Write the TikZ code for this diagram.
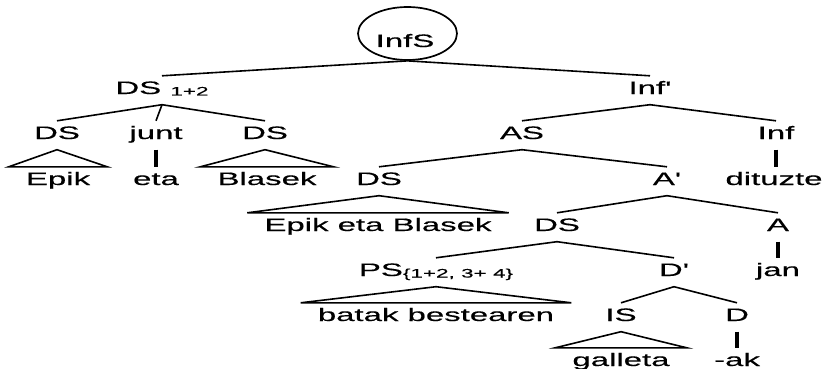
\documentclass[tikz,border=0pt]{standalone}
\usepackage{fontspec}
\setmainfont{Liberation Sans}[FakeStretch=1.83,FakeBold=0.4,Ligatures=TeXOff]
\usetikzlibrary{shapes.geometric}
\newcommand{\subsz}{\fontsize{12.3}{14}\selectfont}
\begin{document}
\begin{tikzpicture}[x=1pt,y=-1pt,
  lab/.style={font=\fontsize{18}{20}\selectfont, inner sep=0pt, text height=18pt, text depth=10.5pt, anchor=base},
  edge/.style={line width=1.6pt},
  vedge/.style={line width=3.2pt},
  ring/.style={draw, ellipse, line width=1.7pt, minimum width=99pt, minimum height=53pt, inner sep=0pt}
]
\useasboundingbox (0,0) rectangle (822,369);
\fill[white] (0,0) rectangle (822,369);
% nodes
\node[lab] (infs) at (405,47) {InfS};
\node[ring] (ring) at (407.5,33.5) {};
\node[lab] (ds12) at (162,94) {DS \raisebox{-1.5pt}{\subsz 1+2}};
\node[lab] (infbar) at (650,94) {Inf'};
\node[lab] (dsa) at (57,139) {DS};
\node[lab] (junt) at (156,139) {junt};
\node[lab] (dsb) at (265,139) {DS};
\node[lab] (as) at (522,139) {AS};
\node[lab] (inf) at (776,139) {Inf};
\node[lab] (epik) at (58,185) {Epik};
\node[lab] (eta) at (156,185) {eta};
\node[lab] (blasek) at (267,185) {Blasek};
\node[lab] (dsc) at (379,185) {DS};
\node[lab] (abar) at (667,185) {A'};
\node[lab] (dituzte) at (774,185) {dituzte};
\node[lab] (eeb) at (378,231) {Epik eta Blasek};
\node[lab] (dsd) at (557,231) {DS};
\node[lab] (a) at (778,231) {A};
\node[lab] (ps) at (436,276) {PS\raisebox{-1.5pt}{\subsz\{1+2, 3+ 4\}}};
\node[lab] (dbar) at (674,276) {D'};
\node[lab] (jan) at (778,276) {jan};
\node[lab] (bb) at (436,321) {batak bestearen};
\node[lab] (is) at (621,321) {IS};
\node[lab] (d) at (737,321) {D};
\node[lab] (galleta) at (621,366) {galleta};
\node[lab] (ak) at (737,366) {-ak};
% branches
\draw[edge] (ring.south) -- (ds12.north);
\draw[edge] (ring.south) -- (infbar.north);
\draw[edge] (ds12.south) -- (dsa.north);
\draw[edge] (ds12.south) -- (junt.north);
\draw[edge] (ds12.south) -- (dsb.north);
\draw[edge] (infbar.south) -- (as.north);
\draw[edge] (infbar.south) -- (inf.north);
\draw[edge] (as.south) -- (dsc.north);
\draw[edge] (as.south) -- (abar.north);
\draw[edge] (abar.south) -- (dsd.north);
\draw[edge] (abar.south) -- (a.north);
\draw[edge] (dsd.south) -- (ps.north);
\draw[edge] (dsd.south) -- (dbar.north);
\draw[edge] (dbar.south) -- (is.north);
\draw[edge] (dbar.south) -- (d.north);
% unary
\draw[vedge] (junt.south) -- (eta.north);
\draw[vedge] (inf.south) -- ([xshift=2pt]dituzte.north);
\draw[vedge] (a.south) -- (jan.north);
\draw[vedge] (d.south) -- (ak.north);
% triangles
\draw[edge] (dsa.south) -- ([xshift=-17pt]epik.north west) -- ([xshift=17pt]epik.north east) -- cycle;
\draw[edge] (dsb.south) -- ([xshift=-17pt]blasek.north west) -- ([xshift=17pt]blasek.north east) -- cycle;
\draw[edge] (dsc.south) -- ([xshift=-17pt]eeb.north west) -- ([xshift=17pt]eeb.north east) -- cycle;
\draw[edge] (ps.south) -- ([xshift=-17pt]bb.north west) -- ([xshift=17pt]bb.north east) -- cycle;
\draw[edge] (is.south) -- ([xshift=-17pt]galleta.north west) -- ([xshift=17pt]galleta.north east) -- cycle;
\end{tikzpicture}
\end{document}
